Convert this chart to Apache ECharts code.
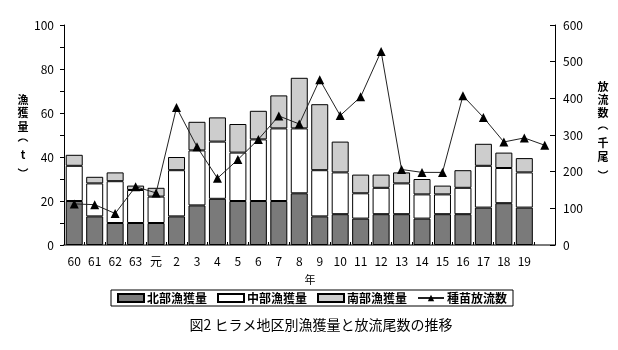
<!DOCTYPE html>
<html>
<head>
<meta charset="utf-8">
<script src="https://cdn.jsdelivr.net/npm/echarts@6/dist/echarts.min.js"></script>
<style>
  html, body { margin: 0; padding: 0; background: #fff; }
  #chart { width: 618px; height: 350px; }
</style>
</head>
<body>
<div id="chart"></div>
<script>
// Fiscal years (Showa 60–63, Heisei 元–19); the last slot carries only the release count.
const years = ['60', '61', '62', '63', '元', '2', '3', '4', '5', '6', '7', '8', '9',
  '10', '11', '12', '13', '14', '15', '16', '17', '18', '19', ''];

// Catch by district (t)
const northCatch = [20, 13, 10, 10, 10, 13, 18, 21, 20, 20, 20, 23.5, 13, 14, 12, 14, 14, 12, 14, 14, 17, 19, 17, '-'];
const middleCatch = [16, 15, 19, 15, 12, 21, 25, 26, 22, 28, 33, 29.5, 21, 19, 11.5, 12, 14, 11, 9, 12, 19, 16, 16, '-'];
const southCatch = [5, 3, 4, 2, 4, 6, 13, 11, 13, 13, 15, 23, 30, 14, 8.5, 6, 5, 7, 4, 8, 10, 7, 6.5, '-'];

// Seedlings released (thousand fish)
const released = [112, 110, 86, 159, 142, 375, 268, 182, 233, 288, 352, 330, 451, 353, 404,
  528, 206, 198, 198, 407, 348, 281, 292, 272];

const leftTicks = { min: 0, max: 100, step: 10, labelStep: 20 };
const rightTicks = { min: 0, max: 600, step: 100 };

const FONT = '"Noto Sans CJK JP", "Liberation Sans", sans-serif';

const chart = echarts.init(document.getElementById('chart'), null, { renderer: 'canvas' });

const barBorder = { borderColor: '#000', borderWidth: 1 };

// Stacked vertical axis title; '(' and ')' become shallow arcs (vertical-writing brackets).
function verticalLabel(chars, x, ys) {
  return chars.map((c, i) => {
    if (c === '(' || c === ')') {
      const open = c === '(';
      return {
        type: 'arc',
        shape: {
          cx: x, cy: open ? ys[i] + 3 : ys[i] - 3, r: 6,
          startAngle: open ? Math.PI * 1.2 : Math.PI * 0.2,
          endAngle: open ? Math.PI * 1.8 : Math.PI * 0.8,
          clockwise: true
        },
        style: { stroke: '#000', lineWidth: 1.2, fill: null }
      };
    }
    return {
      type: 'text',
      x: x, y: ys[i],
      style: {
        text: c, fill: '#000', font: 'bold 11px ' + FONT,
        align: 'center', verticalAlign: 'middle'
      }
    };
  });
}

chart.setOption({
  animation: false,
  backgroundColor: '#fff',
  grid: { left: 64, right: 63, top: 25, bottom: 105 },
  xAxis: [{
    type: 'category',
    data: years,
    boundaryGap: true,
    axisLine: { lineStyle: { color: '#000', width: 1 } },
    axisTick: { show: true, inside: true, length: 3, alignWithLabel: false, lineStyle: { color: '#000' } },
    axisLabel: { color: '#000', fontSize: 12, fontFamily: FONT, margin: 10, interval: 0 }
  }, {
    type: 'category',
    data: years,
    position: 'top',
    axisLine: { show: true, lineStyle: { color: '#7a7a7a', width: 2 } },
    axisTick: { show: false },
    axisLabel: { show: false }
  }],
  yAxis: [{
    type: 'value',
    min: leftTicks.min, max: leftTicks.max, interval: leftTicks.step,
    axisLine: { show: true, lineStyle: { color: '#000', width: 1 } },
    axisTick: { show: true, inside: false, length: 4, lineStyle: { color: '#000' } },
    axisLabel: {
      color: '#000', fontSize: 12, fontFamily: FONT, margin: 10,
      formatter: v => (v % leftTicks.labelStep === 0 ? String(v) : '')
    },
    splitLine: { show: false }
  }, {
    type: 'value',
    position: 'right',
    min: rightTicks.min, max: rightTicks.max, interval: rightTicks.step,
    axisLine: { show: true, lineStyle: { color: '#000', width: 1 } },
    axisTick: { show: true, inside: true, length: 5, lineStyle: { color: '#000' } },
    axisLabel: { color: '#000', fontSize: 12, fontFamily: FONT, margin: 8 },
    splitLine: { show: false }
  }],
  legend: {
    left: 111, top: 290,
    width: 420,
    padding: [2, 6, 2, 6],
    itemGap: 10,
    itemWidth: 26, itemHeight: 8,
    borderColor: '#000', borderWidth: 1,
    textStyle: { color: '#000', fontSize: 12, fontFamily: FONT, fontWeight: 'bold', padding: [0, 0, 0, -2] },
    data: [
      { name: '北部漁獲量', icon: 'rect' },
      { name: '中部漁獲量', icon: 'rect' },
      { name: '南部漁獲量', icon: 'rect' },
      { name: '種苗放流数' }
    ]
  },
  series: [{
    name: '北部漁獲量', type: 'bar', stack: 'catch',
    data: northCatch, barWidth: 17,
    itemStyle: Object.assign({ color: '#7a7a7a' }, barBorder)
  }, {
    name: '中部漁獲量', type: 'bar', stack: 'catch',
    data: middleCatch, barWidth: 17,
    itemStyle: Object.assign({ color: '#ffffff' }, barBorder)
  }, {
    name: '南部漁獲量', type: 'bar', stack: 'catch',
    data: southCatch, barWidth: 17,
    itemStyle: Object.assign({ color: '#cdcdcd' }, barBorder)
  }, {
    name: '種苗放流数', type: 'line', yAxisIndex: 1,
    data: released,
    symbol: 'triangle', symbolSize: 9,
    itemStyle: { color: '#000' },
    lineStyle: { color: '#222', width: 1 },
    z: 5
  }],
  graphic: [
    ...verticalLabel(['漁', '獲', '量', '(', 't', ')'], 23, [100, 113, 127, 142, 155, 168]),
    ...verticalLabel(['放', '流', '数', '(', '千', '尾', ')'], 603, [87, 100, 113, 130, 143, 157, 170]),
    {
      type: 'text', x: 310, y: 280,
      style: { text: '年', fill: '#000', font: '11px ' + FONT, align: 'center', verticalAlign: 'middle' }
    },
    {
      type: 'text', x: 321, y: 325,
      style: { text: '図2 ヒラメ地区別漁獲量と放流尾数の推移', fill: '#000', font: '14px ' + FONT, align: 'center', verticalAlign: 'middle' }
    }
  ]
});
</script>
</body>
</html>
